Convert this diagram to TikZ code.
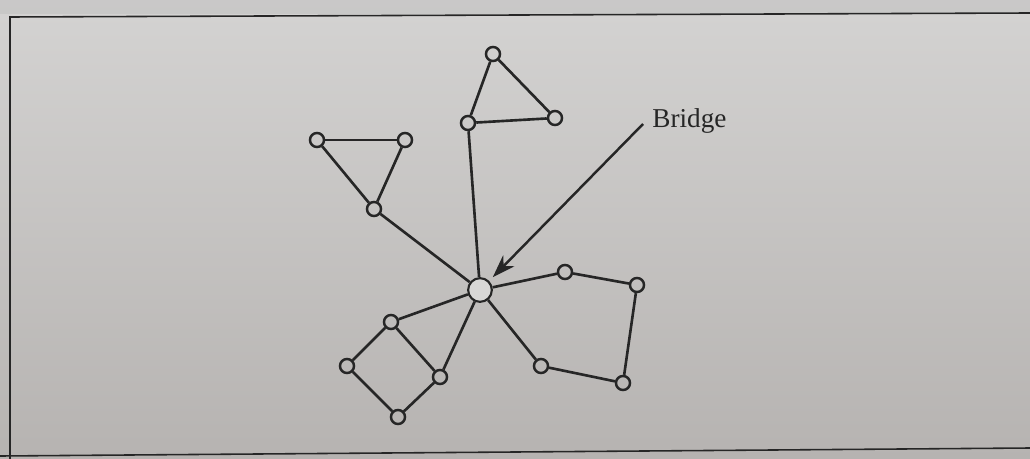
\documentclass[tikz,border=0pt]{standalone}
\usepackage{fontspec}
\setmainfont{Liberation Serif}
\usetikzlibrary{arrows.meta}
\definecolor{papertop}{HTML}{D4D3D2}
\definecolor{paperbot}{HTML}{B6B3B1}
\definecolor{ink}{HTML}{262626}
\definecolor{hubfill}{HTML}{D8D7D6}

\tikzset{
  vtx/.style={circle, draw=ink, line width=1.4pt, minimum size=8pt, inner sep=0pt},
  hubvtx/.style={circle, draw=ink, line width=1.2pt, minimum size=13.5pt, inner sep=0pt, fill=hubfill},
  edge/.style={ink, line width=1.5pt},
  frameline/.style={ink, line width=0.9pt}
}

\begin{document}
\begin{tikzpicture}[x=0.02cm, y=-0.02cm]
\useasboundingbox (0,0) rectangle (1030,459);
% Paper background
\shade[top color=papertop, bottom color=paperbot] (0,0) rectangle (1030,459);
\fill[black!25, opacity=0.5] (0,0) rectangle (1030,14);
% Box frame
\draw[frameline] (10,459) -- (10,17) -- (1030,13);
\draw[frameline] (0,456) -- (1030,448);

% Vertices
\node[hubvtx] (hub) at (480,290) {};
\foreach \vname/\vx/\vy in {ta/317/140, tb/405/140, tc/374/209,
                           td/493/54, te/555/118, tf/468/123,
                           pa/565/272, pb/637/285, pc/623/383, pd/541/366,
                           qa/391/322, qb/347/366, qc/398/417, qd/440/377}
  \node[vtx] (\vname) at (\vx,\vy) {};

% Edges
\foreach \from/\to in {ta/tb, ta/tc, tb/tc, tc/hub,
                       td/te, td/tf, tf/te, tf/hub,
                       hub/pa, pa/pb, pb/pc, pc/pd, pd/hub,
                       hub/qa, qa/qb, qb/qc, qc/qd, qd/qa, qd/hub}
  \draw[edge] (\from) -- (\to);

% Label and pointer
\node[anchor=west, font=\fontsize{15.5}{18}\selectfont, text=ink, inner sep=0pt] (bridge) at (652,121) {Bridge};
\coordinate (tail) at (643,124);
\draw[edge, line width=1.4pt, shorten >=3pt, -{Stealth[length=13pt, width=9pt]}] (tail) -- (hub.north east);
\end{tikzpicture}
\end{document}
